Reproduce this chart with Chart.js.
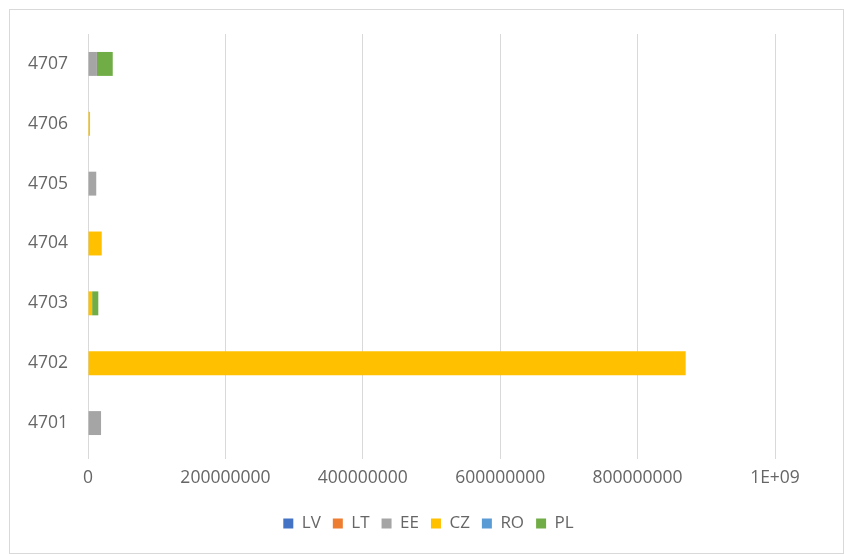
<!DOCTYPE html>
<html>
<head>
<meta charset="utf-8">
<script src="https://cdn.jsdelivr.net/npm/chart.js@4/dist/chart.umd.min.js"></script>
<style>
  html, body { margin: 0; padding: 0; background: #fff; }
  #wrap { position: relative; width: 844px; height: 554px; }
</style>
</head>
<body>
<div id="wrap"><canvas id="c" width="844" height="554"></canvas></div>
<script>
const categories = ['4707', '4706', '4705', '4704', '4703', '4702', '4701'];
const seriesNames = ['LV', 'LT', 'EE', 'CZ', 'RO', 'PL'];
const LV = [0, 0, 0, 0, 0, 0, 0];
const LT = [0, 0, 0, 0, 0, 0, 0];
const EE = [13000000, 0, 12000000, 0, 0, 0, 19000000];
const CZ = [0, 3000000, 0, 20000000, 6000000, 870000000, 0];
const RO = [0, 0, 0, 0, 0, 0, 0];
const PL = [23000000, 0, 0, 0, 9000000, 0, 0];
const tickValues = [0, 200000000, 400000000, 600000000, 800000000, 1000000000];
const colors = ['#4472C4', '#ED7D31', '#A5A5A5', '#FFC000', '#5B9BD5', '#70AD47'];

const seriesData = [LV, LT, EE, CZ, RO, PL];
const FONT = "'Open Sans', 'Liberation Sans', sans-serif";
const TXT = '#666666';

const borderPlugin = {
  id: 'outerBorder',
  beforeDraw(chart) {
    const ctx = chart.ctx;
    ctx.save();
    ctx.fillStyle = '#fff';
    ctx.fillRect(0, 0, chart.width, chart.height);
    ctx.strokeStyle = '#d9d9d9';
    ctx.lineWidth = 1;
    ctx.strokeRect(9.5, 9.5, 834, 544);
    ctx.restore();
  },
  afterLayout(chart) {
    const l = chart.legend;
    if (l) { l.left += 36; l.right += 36; }
  }
};

new Chart(document.getElementById('c'), {
  type: 'bar',
  data: {
    labels: categories,
    datasets: seriesNames.map((n, i) => ({
      label: n,
      data: seriesData[i],
      backgroundColor: colors[i],
      borderWidth: 0,
      barPercentage: 0.4,
      categoryPercentage: 1.0
    }))
  },
  options: {
    indexAxis: 'y',
    responsive: false,
    animation: false,
    layout: { padding: { left: 10, right: 69, top: 34, bottom: 12 } },
    plugins: {
      tooltip: { enabled: false },
      legend: {
        position: 'bottom',
        labels: {
          boxWidth: 10, boxHeight: 10, padding: 12,
          color: TXT,
          font: { family: FONT, size: 17 }
        }
      }
    },
    scales: {
      x: {
        stacked: true,
        min: 0, max: 1000000000,
        afterBuildTicks(axis) { axis.ticks = tickValues.map(v => ({ value: v })); },
        afterFit(axis) { axis.height = 50; },
        grid: { color: '#d9d9d9', drawTicks: true, tickLength: 6, tickColor: '#d9d9d9' },
        border: { display: false },
        ticks: {
          color: TXT,
          font: { family: FONT, size: 17.5 },
          padding: 9,
          maxRotation: 0,
          callback(v) { return v === 1000000000 ? '1E+09' : String(v); }
        }
      },
      y: {
        stacked: true,
        afterFit(axis) { axis.width = 78; },
        grid: { display: false },
        border: { display: true, color: '#d9d9d9' },
        ticks: {
          color: TXT,
          font: { family: FONT, size: 17.5 },
          padding: 12
        }
      }
    }
  },
  plugins: [borderPlugin]
});
</script>
</body>
</html>
